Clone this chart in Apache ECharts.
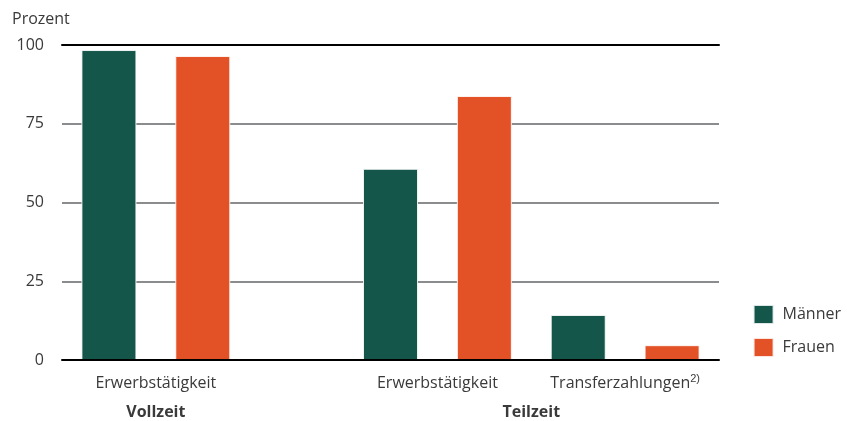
<!DOCTYPE html>
<html>
<head>
<meta charset="utf-8">
<script src="https://cdn.jsdelivr.net/npm/echarts@6/dist/echarts.min.js"></script>
<style>
  html, body { margin: 0; padding: 0; background: #fff; }
  #chart { width: 847px; height: 421px; }
</style>
</head>
<body>
<div id="chart"></div>
<script>
// Shares in percent, per group: Vollzeit/Erwerbstätigkeit, Teilzeit/Erwerbstätigkeit, Teilzeit/Transferzahlungen
const groupLabels = ['Erwerbstätigkeit', 'Erwerbstätigkeit', 'Transferzahlungen{sup|2)}'];
const groupSection = ['Vollzeit', 'Teilzeit', 'Teilzeit'];
const sections = ['Vollzeit', 'Teilzeit'];
const maenner = [98.4, 60.7, 14.3];
const frauen = [96.5, 83.8, 4.7];
const yTicks = [0, 25, 50, 75, 100];
const seriesNames = ['Männer', 'Frauen'];
const colors = ['#14574a', '#e35226'];

const FONT = 'Open Sans';
const TEXT = '#3a3a3a';

// Build the slot layout: two bar slots per group plus one empty slot between sections
const slots = [];
const slotGroup = [];
groupLabels.forEach((g, i) => {
  if (i > 0 && groupSection[i] !== groupSection[i - 1]) {
    slots.push('gap' + i);
    slotGroup.push(-1);
  }
  slots.push('m' + i); slotGroup.push(i);
  slots.push('f' + i); slotGroup.push(i);
});
const mData = slots.map((s, k) => s[0] === 'm' ? maenner[slotGroup[k]] : '-');
const fData = slots.map((s, k) => s[0] === 'f' ? frauen[slotGroup[k]] : '-');

const chart = echarts.init(document.getElementById('chart'));

const barStyle = (c) => ({ color: c, borderColor: 'rgba(255,255,255,0.85)', borderWidth: 1 });

chart.setOption({
  animation: false,
  textStyle: { fontFamily: FONT },
  grid: { left: 62, right: 128, top: 45, bottom: 61 },
  legend: {
    orient: 'vertical',
    right: 1,
    top: 299,
    itemWidth: 20,
    itemHeight: 19,
    itemGap: 12,
    icon: 'rect',
    data: seriesNames,
    textStyle: { fontFamily: FONT, fontSize: 16, color: TEXT, padding: [0, 0, 0, 4] }
  },
  xAxis: [
    {
      type: 'category',
      data: slots,
      z: 5,
      axisLine: { lineStyle: { color: '#000', width: 2 } },
      axisTick: { show: false },
      axisLabel: { show: false }
    },
    {
      type: 'category',
      data: slots,
      position: 'top',
      z: 5,
      axisLine: { lineStyle: { color: '#000', width: 2 } },
      axisTick: { show: false },
      axisLabel: { show: false }
    }
  ],
  yAxis: {
    type: 'value',
    min: yTicks[0],
    max: yTicks[yTicks.length - 1],
    interval: yTicks[1] - yTicks[0],
    name: 'Prozent',
    nameLocation: 'end',
    nameGap: 18,
    nameTextStyle: { fontFamily: FONT, fontSize: 16, color: TEXT, align: 'left', padding: [0, 0, 0, -50] },
    axisLine: { show: false },
    axisTick: { show: false },
    axisLabel: { fontFamily: FONT, fontSize: 16, color: TEXT, margin: 18 },
    splitLine: { lineStyle: { color: '#8a8c8e', width: 2 } }
  },
  series: [
    { name: seriesNames[0], type: 'bar', stack: 'v', barWidth: 55, data: mData, itemStyle: barStyle(colors[0]) },
    { name: seriesNames[1], type: 'bar', stack: 'v', barWidth: 55, data: fData, itemStyle: barStyle(colors[1]) }
  ]
});

// Category and section labels below the axis, centred under their bars
function px(slotName) {
  return chart.convertToPixel({ xAxisIndex: 0 }, slotName);
}
const baseY = chart.convertToPixel({ yAxisIndex: 0 }, 0);
const elements = [];
groupLabels.forEach((g, i) => {
  const cx = (px('m' + i) + px('f' + i)) / 2;
  elements.push({
    type: 'text',
    x: cx, y: baseY + 23,
    style: {
      text: g,
      align: 'center', verticalAlign: 'middle',
      font: '16px "' + FONT + '"', fill: TEXT,
      rich: { sup: { fontSize: 11, fill: TEXT, verticalAlign: 'top', padding: [0, 0, 8, 0] } }
    }
  });
});
sections.forEach((s) => {
  const idx = groupSection.map((v, i) => v === s ? i : -1).filter(i => i >= 0);
  const x0 = px('m' + idx[0]);
  const x1 = px('f' + idx[idx.length - 1]);
  elements.push({
    type: 'text',
    x: (x0 + x1) / 2, y: baseY + 52,
    style: {
      text: s,
      align: 'center', verticalAlign: 'middle',
      font: 'bold 16px "' + FONT + '"', fill: TEXT
    }
  });
});
chart.setOption({ graphic: { elements } });
</script>
</body>
</html>
